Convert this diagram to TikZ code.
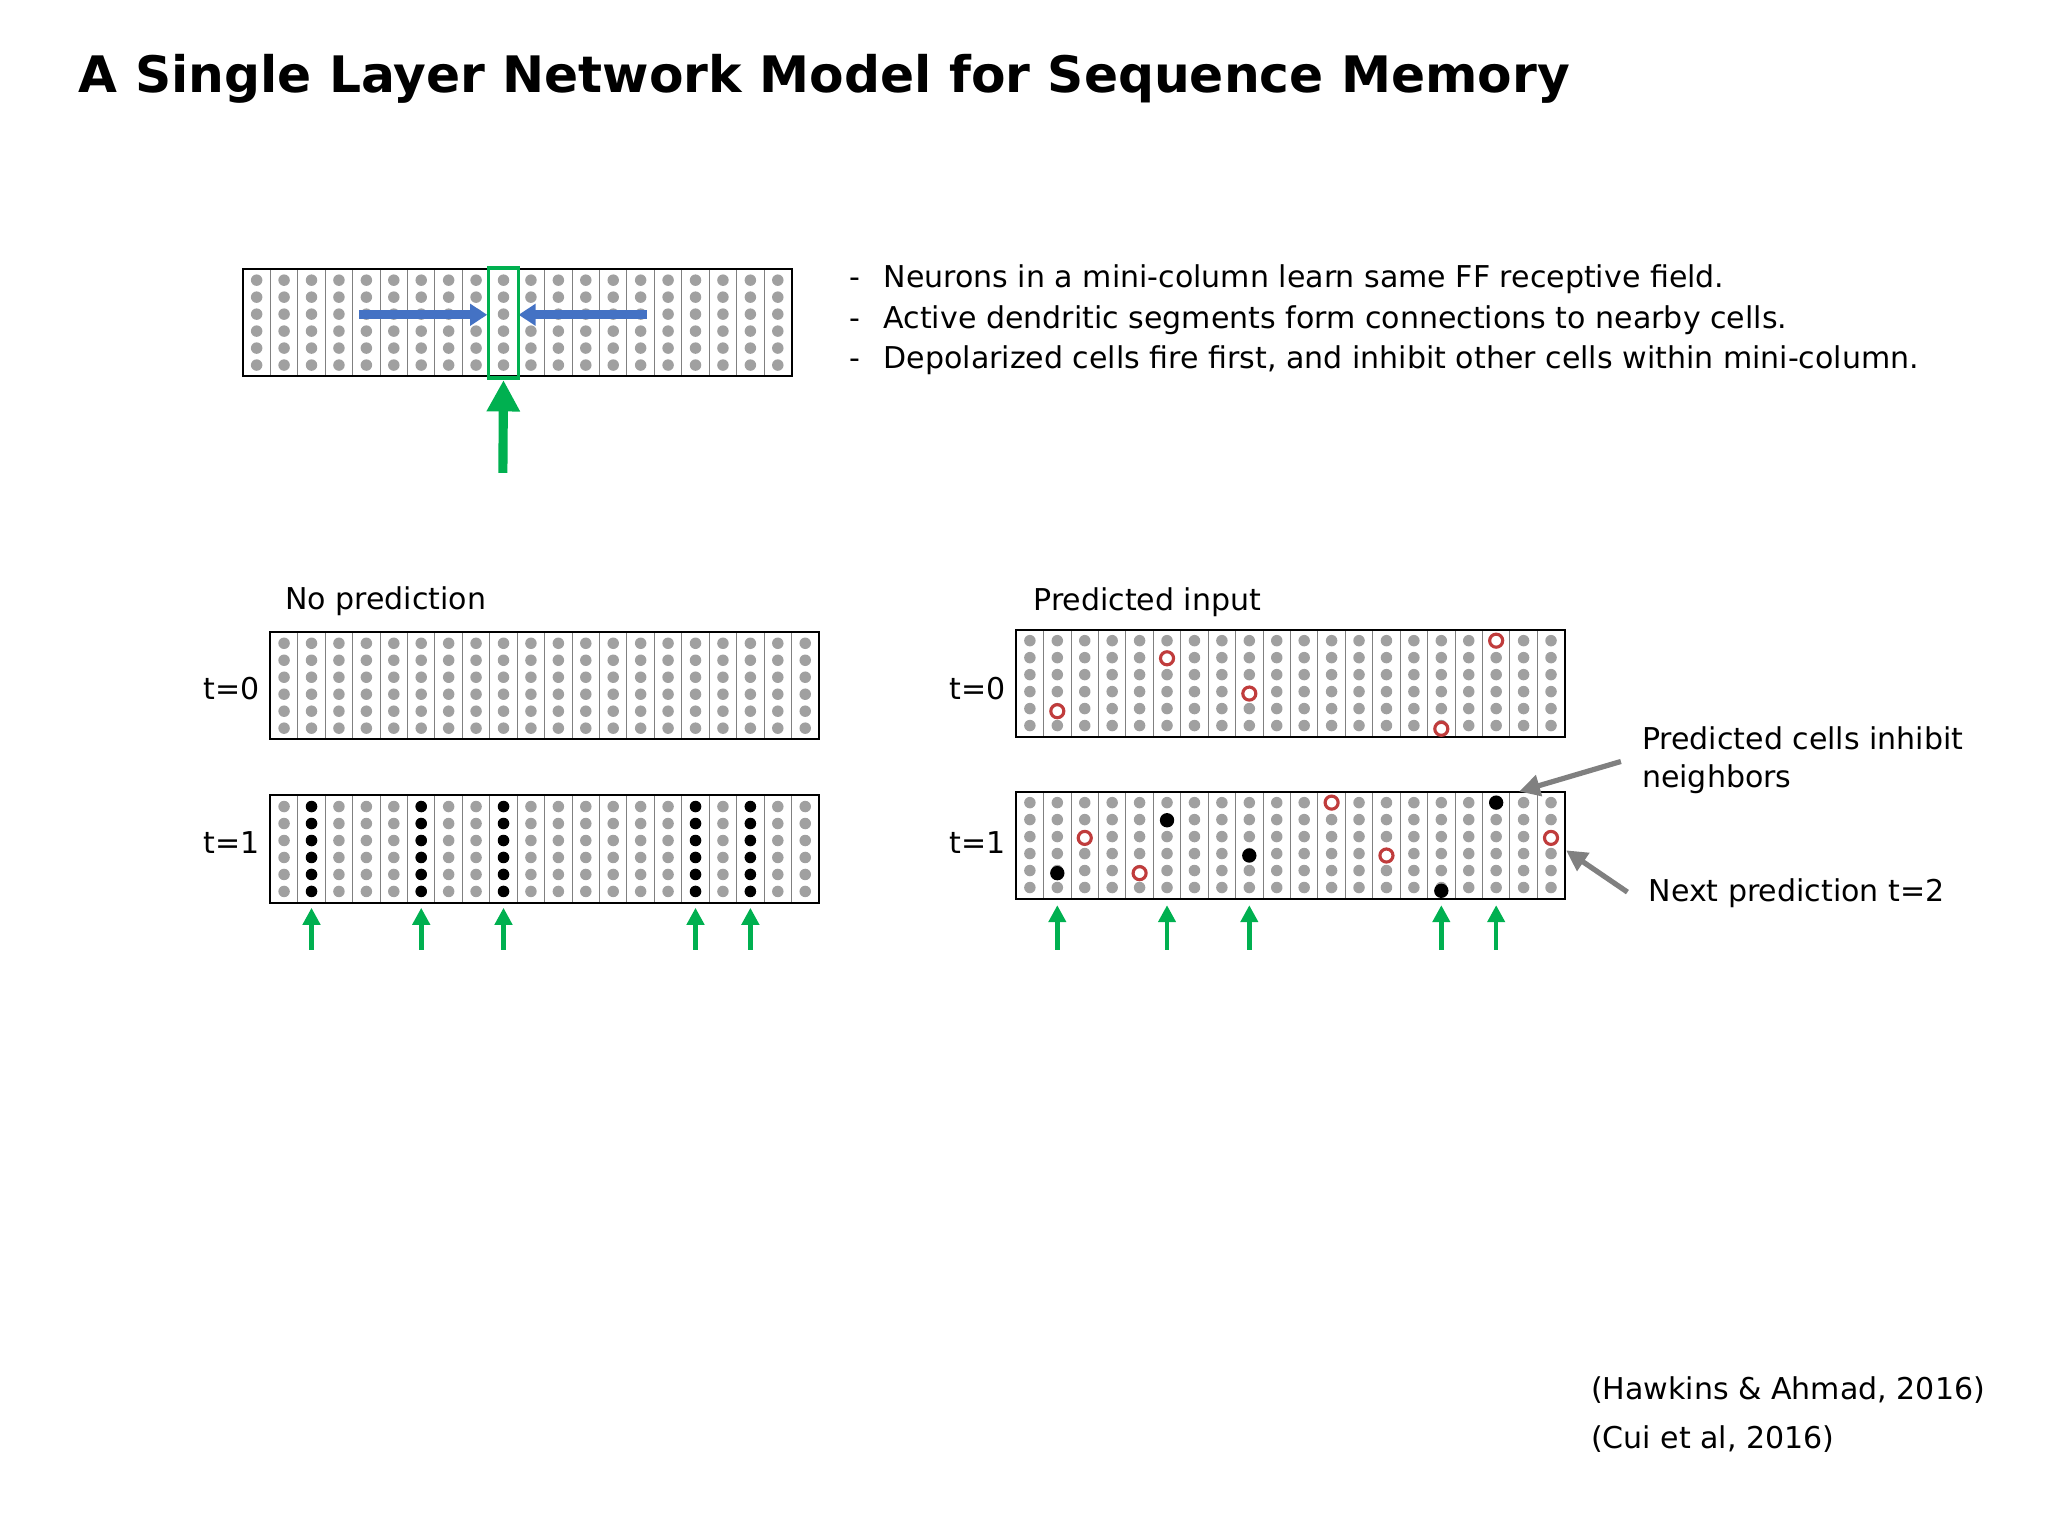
\documentclass[tikz,border=0pt]{standalone}
\usepackage{fontspec}
\setmainfont{DejaVu Sans}
\usetikzlibrary{arrows.meta}
\definecolor{dotgray}{RGB}{160,160,160}
\definecolor{ffgreen}{RGB}{0,176,80}
\definecolor{arrblue}{RGB}{68,114,196}
\definecolor{predred}{RGB}{192,60,60}
\begin{document}
\begin{tikzpicture}[x=1pt,y=-1pt,
  txt/.style={font=\fontsize{23}{27}\selectfont, inner sep=0pt},
  gdot/.style={fill=dotgray},
  bdot/.style={fill=black},
  rdot/.style={draw=predred, line width=2.4pt, fill=white},
  ffarrow/.style={draw=ffgreen, line width=3.5pt, -{Triangle[length=13pt,width=13pt]}},
  grayarrow/.style={draw=gray, line width=4pt, -{Triangle[length=16pt,width=16pt]}},
]
\useasboundingbox (0,0) rectangle (1568,1176);
% grid: #1 x left, #2 y top
\newcommand{\mygrid}[2]{%
  \draw[gray, line width=0.8pt] foreach \i in {1,...,19} {(#1+21*\i,#2) -- (#1+21*\i,#2+82)};
  \foreach \i in {0,...,19} \foreach \r in {0,...,5}
    \fill[gdot] (#1+10.5+21*\i, #2+8.5+13*\r) circle (4.4);
  \draw[line width=1.5pt] (#1,#2) rectangle (#1+420,#2+82);}

\node[anchor=west, inner sep=0pt, font=\fontsize{38.5}{44}\selectfont\bfseries] (title) at (60,60) {A Single Layer Network Model for Sequence Memory};

% top grid
\mygrid{186}{206}
\draw[arrblue, line width=7pt, -{Triangle[length=13pt,width=16pt]}] (275,241) -- (373,241);
\draw[arrblue, line width=7pt, -{Triangle[length=13pt,width=16pt]}] (495,241) -- (397,241);
\node[draw=ffgreen, line width=3pt, minimum width=23pt, minimum height=84pt, inner sep=0pt] (col) at (385.5,247.5) {};
\coordinate (ffin) at (385,362);
\draw[ffgreen, line width=7pt, -{Triangle[length=24pt,width=24pt]}] (ffin) -- (col.south);

\node[txt, anchor=west] (b1) at (650,214) {-\hspace{18pt}Neurons in a mini-column learn same FF receptive field.};
\node[txt, anchor=west] (b2) at (650,245) {-\hspace{18pt}Active dendritic segments form connections to nearby cells.};
\node[txt, anchor=west] (b3) at (650,276) {-\hspace{18pt}Depolarized cells fire first, and inhibit other cells within mini-column.};

% no prediction
\node[txt, anchor=west] (np) at (218,460) {No prediction};
\mygrid{207}{484}
\mygrid{207}{609}
\node[txt, anchor=east] (t0a) at (199,527) {t=0};
\node[txt, anchor=east] (t1a) at (199,645) {t=1};
\foreach \c in {1,5,8,15,17} {
  \foreach \r in {0,...,5} \fill[bdot] (207+10.5+21*\c, 609+8.5+13*\r) circle (4.4);
  \coordinate (na\c) at (207+10.5+21*\c,727);
  \coordinate (nb\c) at (207+10.5+21*\c,695);
  \draw[ffarrow] (na\c) -- (nb\c);
}

% predicted input
\node[txt, anchor=west] (pi) at (791,461) {Predicted input};
\mygrid{778}{482}
\mygrid{778}{606}
\node[txt, anchor=east] (t0b) at (770,527) {t=0};
\node[txt, anchor=east] (t1b) at (770,645) {t=1};
\foreach \c/\r in {1/4,5/1,8/3,15/5,17/0} {
  \filldraw[rdot] (778+10.5+21*\c, 482+8.5+13.5*\r) circle (5);
  \fill[bdot] (778+10.5+21*\c, 606+8.5+13.5*\r) circle (5.5);
  \coordinate (pa\c) at (778+10.5+21*\c,727);
  \coordinate (pb\c) at (778+10.5+21*\c,693);
  \draw[ffarrow] (pa\c) -- (pb\c);
}
\foreach \c/\r in {2/2,4/4,11/0,13/3,19/2}
  \filldraw[rdot] (778+10.5+21*\c, 606+8.5+13.5*\r) circle (5);

\node[txt, anchor=north west, align=left] (inh) at (1257,556) {Predicted cells inhibit\\[2pt]neighbors};
\node[txt, anchor=west] (nxt) at (1262,684) {Next prediction t=2};
\coordinate (inhtip) at (1163,606);
\coordinate (nxttip) at (1199,651);
\draw[grayarrow] (1241,583) -- (inhtip);
\draw[grayarrow] (1246,683) -- (nxttip);

\node[txt, anchor=west] (r1) at (1218,1064) {(Hawkins \& Ahmad, 2016)};
\node[txt, anchor=west] (r2) at (1218,1102) {(Cui et al, 2016)};
\end{tikzpicture}
\end{document}
